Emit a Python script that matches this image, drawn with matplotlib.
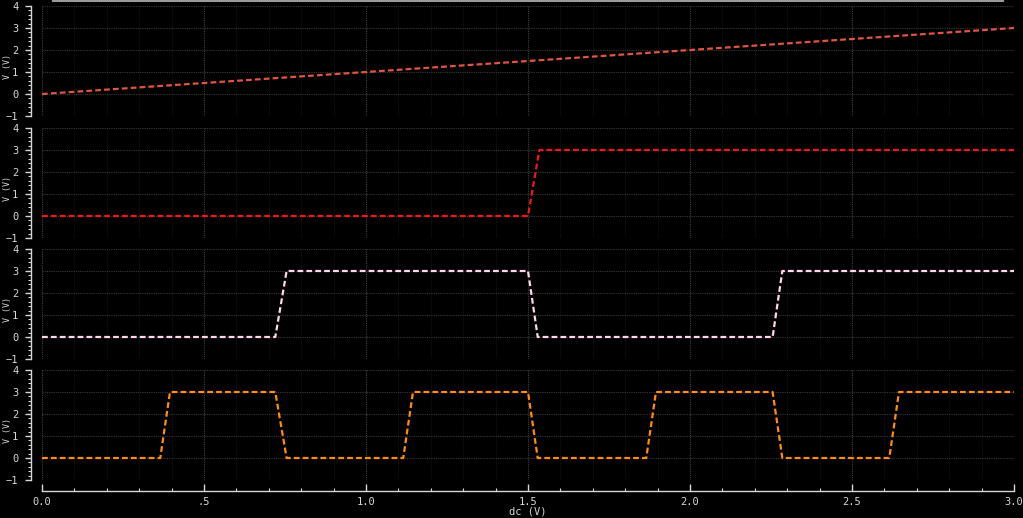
import matplotlib
matplotlib.use("Agg")
import matplotlib.pyplot as plt
from matplotlib.ticker import MultipleLocator, FixedLocator, FixedFormatter
from matplotlib.lines import Line2D

ramp_x = [0.0, 3.0]
ramp_y = [0.0, 3.0]

q2_x = [0.0, 1.50, 1.535, 3.0]
q2_y = [0, 0, 3, 3]

q1_x = [0.0, 0.72, 0.755, 1.50, 1.53, 2.255, 2.285, 3.0]
q1_y = [0, 0, 3, 3, 0, 0, 3, 3]

q0_x = [0.0, 0.365, 0.395, 0.72, 0.755, 1.115, 1.145, 1.50, 1.53,
        1.865, 1.895, 2.255, 2.285, 2.615, 2.645, 3.0]
q0_y = [0, 0, 3, 3, 0, 0, 3, 3, 0, 0, 3, 3, 0, 0, 3, 3]

x_ticks = [0.0, 0.5, 1.0, 1.5, 2.0, 2.5, 3.0]
x_labels = ["0.0", ".5", "1.0", "1.5", "2.0", "2.5", "3.0"]
y_ticks = [-1, 0, 1, 2, 3, 4]

traces = [
    (ramp_x, ramp_y, "#e0553f"),
    (q2_x, q2_y, "#f01818"),
    (q1_x, q1_y, "#ffd6ee"),
    (q0_x, q0_y, "#ff8c1a"),
]

W, H = 1023, 518
fig = plt.figure(figsize=(W / 100, H / 100), dpi=100, facecolor="black")

left_px, right_px = 42, 1014
tops = [6, 128, 249, 370]
height_px = 110
fg = "#d8d8d8"
mono = "DejaVu Sans Mono"

for i, (xs, ys, col) in enumerate(traces):
    top = tops[i]
    ax = fig.add_axes([left_px / W, 1 - (top + height_px) / H,
                       (right_px - left_px) / W, height_px / H])
    ax.set_facecolor("black")
    ax.set_xlim(0, 3.0)
    ax.set_ylim(-1, 4)

    ax.xaxis.set_major_locator(MultipleLocator(0.5))
    ax.xaxis.set_minor_locator(MultipleLocator(0.1))
    ax.yaxis.set_major_locator(FixedLocator(y_ticks))
    ax.yaxis.set_minor_locator(MultipleLocator(0.2))

    ax.grid(which="major", axis="x", color="#404040", linestyle=(0, (1, 1)), lw=0.8)
    ax.grid(which="minor", axis="x", color="#191919", linestyle=(0, (1, 1)), lw=0.6)
    ax.grid(which="major", axis="y", color="#383838", linestyle=(0, (1, 1)), lw=0.8)
    ax.set_axisbelow(True)

    line, = ax.plot(xs, ys, color=col, lw=1.6)
    line.set_dashes([2.6, 1.4])

    for s in ["top", "right"]:
        ax.spines[s].set_visible(False)
    ax.spines["left"].set_position(("outward", 8))
    ax.spines["left"].set_color(fg)
    ax.spines["left"].set_linewidth(1.0)

    ax.tick_params(axis="y", which="major", colors=fg, length=4, width=1.0,
                   labelsize=7.5, pad=5)
    ax.tick_params(axis="y", which="minor", colors=fg, length=2, width=0.8)
    for lab in ax.get_yticklabels():
        lab.set_family(mono)
    ax.set_ylabel("V (V)", color=fg, fontsize=6, family=mono)
    ax.yaxis.set_label_coords(-0.031, 0.45)

    if i < 3:
        ax.spines["bottom"].set_visible(False)
        ax.tick_params(axis="x", which="both", bottom=False, labelbottom=False)
    else:
        ax.spines["bottom"].set_position(("outward", 8))
        ax.spines["bottom"].set_color(fg)
        ax.spines["bottom"].set_linewidth(1.0)
        ax.set_xticks(x_ticks)
        ax.xaxis.set_major_formatter(FixedFormatter(x_labels))
        ax.tick_params(axis="x", which="major", direction="in", colors=fg,
                       length=5, width=1.0, labelsize=7.5, pad=4)
        ax.tick_params(axis="x", which="minor", direction="in", colors=fg,
                       length=2.5, width=0.8)
        for lab in ax.get_xticklabels():
            lab.set_family(mono)
        ax.set_xlabel("dc (V)", color=fg, fontsize=7.5, family=mono, labelpad=0)

# grey strip along the top edge of the viewer window
fig.add_artist(Line2D([53 / W, 1003 / W], [1 - 1 / H, 1 - 1 / H],
                      color="#9a9a9a", lw=1.5))

fig.savefig("out.png", dpi=100, facecolor="black")
